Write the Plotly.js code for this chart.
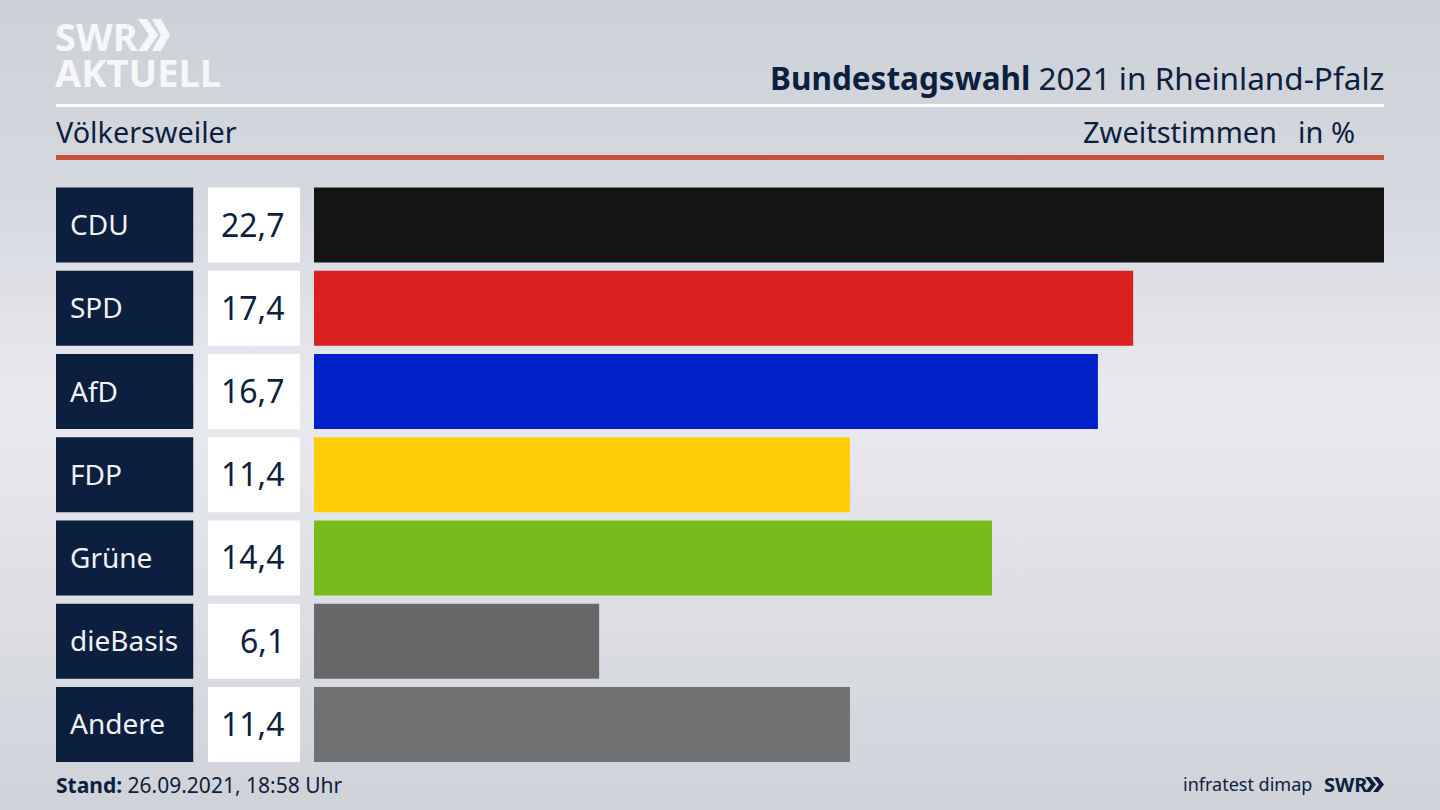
<!DOCTYPE html>
<html><head><meta charset="utf-8">
<script src="https://cdn.plot.ly/plotly-3.0.0.min.js"></script>
<style>
html,body{margin:0;padding:0;width:1440px;height:810px;overflow:hidden;
background:linear-gradient(180deg,#cdd1d8 0%,#d6d9df 25%,#e9eaef 50%,#dfe1e6 70%,#cfd2d8 100%);}
#c{width:1440px;height:810px;}
</style></head><body><div id="c"></div>
<script>
const parties = ["CDU","SPD","AfD","FDP","Grüne","dieBasis","Andere"];
const shares = [22.74,17.41,16.66,11.39,14.41,6.06,11.39];
const shareLabels = ["22,7","17,4","16,7","11,4","14,4","6,1","11,4"];
const barColors = ["#141414","#da201f","#0021c8","#ffcd07","#78bc1b","#676767","#707172"];
const ones = [1,1,1,1,1,1,1];
const navy = "#0c1f3f";
const FONT = "'Noto Sans', sans-serif";
const W=1440,H=810;
const px=x=>x/W, py=y=>1-y/H;

const gap=0.0985;
const common={type:"bar",orientation:"h",hoverinfo:"skip",showlegend:false};
const data=[
 {...common,x:ones,y:parties,xaxis:"x2",yaxis:"y",marker:{color:navy}},
 {...common,x:ones,y:parties,xaxis:"x3",yaxis:"y",marker:{color:"#ffffff"}},
 {...common,x:shares,y:parties,xaxis:"x",yaxis:"y",marker:{color:barColors}}
];
const ax={showgrid:false,zeroline:false,showticklabels:false,ticks:"",showline:false,fixedrange:true};
const annotations=[];
parties.forEach((p,i)=>{
 annotations.push({xref:"x2",yref:"y",x:0,y:p,text:p,showarrow:false,xanchor:"left",yanchor:"middle",xshift:12,yshift:1,
   font:{family:FONT,size:28,color:"#f0f2f6"}});
 annotations.push({xref:"x3",yref:"y",x:1,y:p,text:shareLabels[i],showarrow:false,xanchor:"right",yanchor:"middle",xshift:-13,yshift:1,
   font:{family:FONT,size:32,color:"#0c1f3f"}});
});
function txt(text,x,y,anchor,size,color,extra){
 annotations.push(Object.assign({xref:"paper",yref:"paper",x:px(x),y:py(y),text,showarrow:false,xanchor:anchor,yanchor:"middle",
   font:{family:FONT,size,color}},extra||{}));
}
txt("<b>Bundestagswahl</b> 2021 in Rheinland-Pfalz",1386,77,"right",31.5,"#0c1f3f");
txt("Völkersweiler",54,131,"left",28.8,"#0c1f3f");
txt("Zweitstimmen",1279,131,"right",29,"#0c1f3f");
txt("in %",1357,131,"right",29,"#0c1f3f");
txt("<b>Stand:</b> 26.09.2021, 18:58 Uhr",54,785,"left",21,"#0c1f3f");
txt("infratest dimap",1314,784,"right",18,"#0c1f3f");
txt("<b>SWR</b>",1322,784,"left",20,"#0c1f3f");
txt("<span style='font-size:38px'><b>SWR</b></span><br><span style='font-size:38px'><b>AKTUELL</b></span>",53,54,"left",28,"#f6f7f9",{align:"left"});

function chev(x,y,w,h,t,color){
 return {type:"path",xref:"paper",yref:"paper",fillcolor:color,line:{width:0},
  path:`M${px(x)},${py(y)} L${px(x+t)},${py(y)} L${px(x+t+w)},${py(y+h/2)} L${px(x+t)},${py(y+h)} L${px(x)},${py(y+h)} L${px(x+w)},${py(y+h/2)} Z`};
}
const rect=(x0,y0,x1,y1,c)=>({type:"rect",xref:"paper",yref:"paper",x0:px(x0),x1:px(x1),y0:py(y1),y1:py(y0),fillcolor:c,line:{width:0}});
const shapes=[
 rect(56,104,1384,107,"#ffffff"),
 rect(56,155,1384,160,"#c9503d"),
 chev(138,19,11,32,9,"#f6f7f9"),chev(152,19,9,32,9,"#f6f7f9"),
 chev(1365,777,6,15,5,"#0c1f3f"),chev(1373,777,6,15,5,"#0c1f3f")
];
const layout={
 width:W,height:H,margin:{l:0,r:0,t:0,b:0},autosize:false,
 paper_bgcolor:"rgba(0,0,0,0)",plot_bgcolor:"rgba(0,0,0,0)",
 bargap:gap,
 font:{family:FONT},
 xaxis:{...ax,domain:[px(314),px(1384)],range:[0,22.74],anchor:"y"},
 xaxis2:{...ax,domain:[px(56),px(193.5)],range:[0,1],anchor:"y"},
 xaxis3:{...ax,domain:[px(208),px(300)],range:[0,1],anchor:"y"},
 yaxis:{...ax,domain:[py(766.1),py(183.4)],type:"category",categoryorder:"array",categoryarray:parties,autorange:"reversed"},
 annotations,shapes
};
Plotly.newPlot("c",data,layout,{staticPlot:true,displayModeBar:false});
</script></body></html>
